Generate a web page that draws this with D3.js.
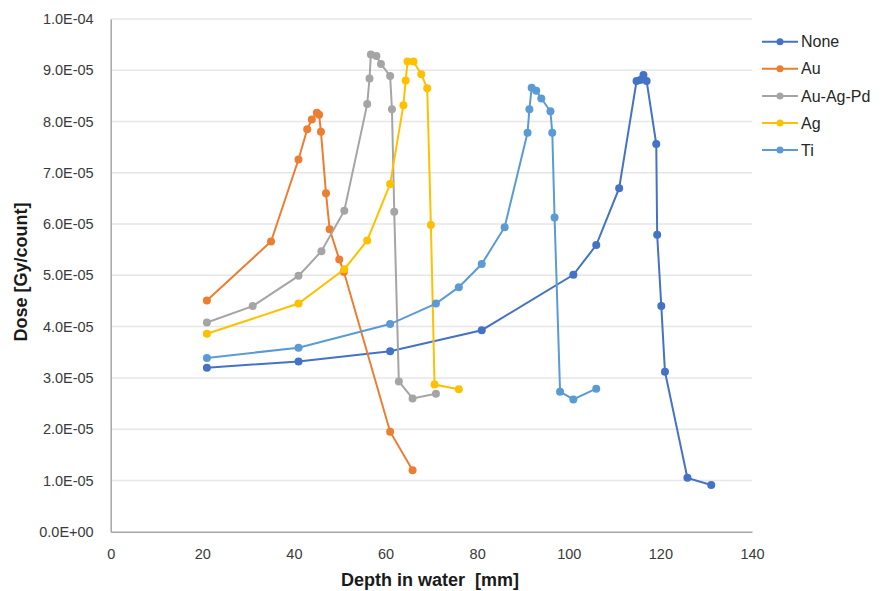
<!DOCTYPE html>
<html>
<head>
<meta charset="utf-8">
<script src="https://cdn.jsdelivr.net/npm/d3@7"></script>
<style>
	body { margin: 0; background: #fff; }
	text { font-family: "Liberation Sans", Arial, sans-serif; }
</style>
</head>
<body>
<div id="chart"></div>
<script>
// series names and colours, in legend order
const seriesNames = ['None', 'Au', 'Au-Ag-Pd', 'Ag', 'Ti'];
const seriesColors = ['#4472C4', '#ED7D31', '#A5A5A5', '#FFC000', '#5B9BD5'];

// depth [mm] and dose [Gy/count]
const noneDepth = [21, 41, 61, 81, 101, 106, 111, 114.8, 115.6, 116.3, 117, 119.1, 119.3, 120.2, 121, 125.9, 131.1];
const noneDose = [3.20e-5, 3.32e-5, 3.52e-5, 3.93e-5, 5.01e-5, 5.59e-5, 6.70e-5, 8.79e-5, 8.81e-5, 8.91e-5, 8.79e-5, 7.56e-5, 5.79e-5, 4.40e-5, 3.12e-5, 1.05e-5, 0.91e-5];

const auDepth = [21, 35, 41, 42.9, 43.9, 45, 45.5, 45.9, 47, 47.8, 49.9, 50.9, 61, 65.9];
const auDose = [4.51e-5, 5.66e-5, 7.26e-5, 7.85e-5, 8.04e-5, 8.17e-5, 8.13e-5, 7.80e-5, 6.60e-5, 5.90e-5, 5.31e-5, 5.07e-5, 1.95e-5, 1.20e-5];

const auAgPdDepth = [21, 31, 41, 46, 51, 56, 56.5, 56.8, 58, 59, 61, 61.4, 61.9, 62.9, 65.9, 71];
const auAgPdDose = [4.08e-5, 4.40e-5, 4.99e-5, 5.47e-5, 6.26e-5, 8.34e-5, 8.84e-5, 9.31e-5, 9.28e-5, 9.12e-5, 8.89e-5, 8.24e-5, 6.24e-5, 2.93e-5, 2.60e-5, 2.69e-5];

const agDepth = [21, 41, 51, 56, 61, 63.9, 64.4, 64.8, 66.1, 67.8, 69.1, 69.9, 70.7, 76];
const agDose = [3.86e-5, 4.45e-5, 5.12e-5, 5.68e-5, 6.78e-5, 8.32e-5, 8.80e-5, 9.17e-5, 9.17e-5, 8.92e-5, 8.65e-5, 5.98e-5, 2.87e-5, 2.78e-5];

const tiDepth = [21, 41, 61, 71, 76, 81, 86, 91, 91.4, 91.9, 92.9, 94, 96, 96.4, 96.9, 98.1, 101, 106];
const tiDose = [3.39e-5, 3.59e-5, 4.05e-5, 4.45e-5, 4.77e-5, 5.22e-5, 5.94e-5, 7.78e-5, 8.24e-5, 8.66e-5, 8.60e-5, 8.45e-5, 8.20e-5, 7.78e-5, 6.13e-5, 2.73e-5, 2.58e-5, 2.79e-5];

const xTicks = [0, 20, 40, 60, 80, 100, 120, 140];
const yTicks = [0, 1e-5, 2e-5, 3e-5, 4e-5, 5e-5, 6e-5, 7e-5, 8e-5, 9e-5, 1e-4];

const allDepth = [noneDepth, auDepth, auAgPdDepth, agDepth, tiDepth];
const allDose = [noneDose, auDose, auAgPdDose, agDose, tiDose];

const series = seriesNames.map((name, i) => ({
	name,
	color: seriesColors[i],
	points: allDepth[i].map((d, j) => ({ x: d, y: allDose[i][j] }))
}));

const width = 882;
const height = 591;
const margin = { top: 19, right: 130, bottom: 59.3, left: 110.7 };

const svg = d3.select('#chart')
	.append('svg')
	.attr('width', width)
	.attr('height', height);

const x = d3.scaleLinear()
	.domain([0, 140])
	.range([margin.left, width - margin.right]);

const y = d3.scaleLinear()
	.domain([0, 1e-4])
	.range([height - margin.bottom, margin.top]);

// Excel style scientific labels, e.g. 9.0E-05
function sci (v) {
	if (v === 0) return '0.0E+00';
	const e = Math.floor(Math.log10(v) + 1e-9);
	const m = v / Math.pow(10, e);
	const sign = e < 0 ? '-' : '+';
	return m.toFixed(1) + 'E' + sign + String(Math.abs(e)).padStart(2, '0');
}

// grid
svg.append('g')
	.selectAll('line')
	.data(yTicks.slice(1))
	.join('line')
	.attr('x1', x(0))
	.attr('x2', x(140))
	.attr('y1', (d) => y(d))
	.attr('y2', (d) => y(d))
	.attr('stroke', '#e6e6e6')
	.attr('stroke-width', 1.5);

// axes
const yAxis = svg.append('g')
	.attr('transform', `translate(${x(0)},0)`)
	.call(d3.axisLeft(y).tickValues(yTicks).tickFormat(sci).tickSize(0).tickPadding(17));

const xAxis = svg.append('g')
	.attr('transform', `translate(0,${y(0)})`)
	.call(d3.axisBottom(x).tickValues(xTicks).tickFormat(d3.format('d')).tickSize(0).tickPadding(17));

[xAxis, yAxis].forEach((ax) => {
	ax.select('.domain')
		.attr('stroke', '#a6a6a6')
		.attr('stroke-width', 1.5);
	ax.selectAll('text')
		.attr('fill', '#3a3a3a')
		.style('font-size', '14.5px');
});

// titles
svg.append('text')
	.attr('x', 430)
	.attr('y', 586)
	.attr('text-anchor', 'middle')
	.style('font-size', '18px')
	.style('font-weight', 'bold')
	.style('white-space', 'pre')
	.attr('fill', '#1a1a1a')
	.text('Depth in water  [mm]');

svg.append('text')
	.attr('transform', 'translate(27,272) rotate(-90)')
	.attr('text-anchor', 'middle')
	.style('font-size', '18px')
	.style('font-weight', 'bold')
	.attr('fill', '#1a1a1a')
	.text('Dose [Gy/count]');

// lines and markers
const line = d3.line()
	.x((d) => x(d.x))
	.y((d) => y(d.y));

const seriesG = svg.append('g')
	.selectAll('g')
	.data(series)
	.join('g');

seriesG.append('path')
	.attr('d', (d) => line(d.points))
	.attr('fill', 'none')
	.attr('stroke', (d) => d.color)
	.attr('stroke-width', 2);

seriesG.selectAll('circle')
	.data((d) => d.points.map((p) => ({ ...p, color: d.color })))
	.join('circle')
	.attr('cx', (d) => x(d.x))
	.attr('cy', (d) => y(d.y))
	.attr('r', 4)
	.attr('fill', (d) => d.color);

// legend
const legend = svg.append('g')
	.selectAll('g')
	.data(series)
	.join('g')
	.attr('transform', (d, i) => `translate(762,${41.7 + i * 27.1})`);

legend.append('line')
	.attr('x1', 0)
	.attr('x2', 36)
	.attr('stroke', (d) => d.color)
	.attr('stroke-width', 2);

legend.append('circle')
	.attr('cx', 18)
	.attr('r', 3.5)
	.attr('fill', (d) => d.color);

legend.append('text')
	.attr('x', 39)
	.attr('dy', '0.35em')
	.style('font-size', '16px')
	.attr('fill', '#262626')
	.text((d) => d.name);
</script>
</body>
</html>
